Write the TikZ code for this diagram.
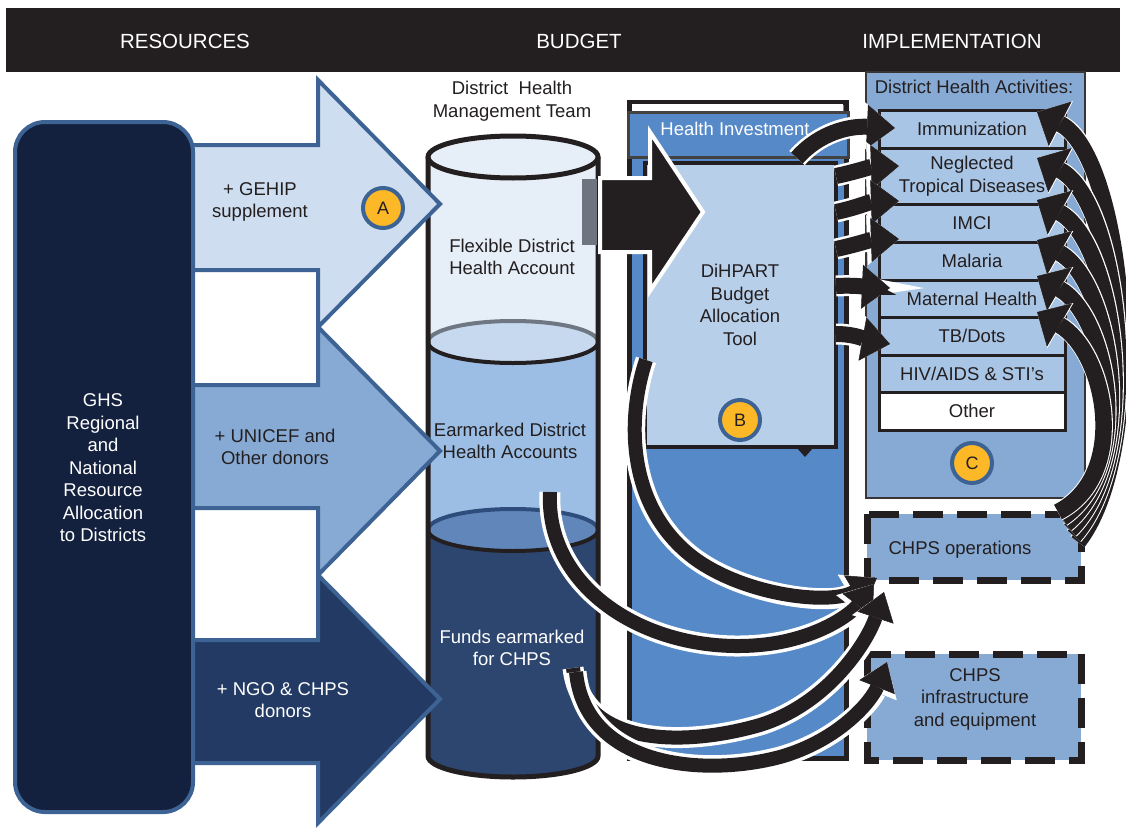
\documentclass[tikz,border=0pt]{standalone}
\usepackage{fontspec}
\setmainfont{Liberation Sans}
\usetikzlibrary{arrows.meta}
\definecolor{dk}{HTML}{231F20}
\definecolor{navy}{HTML}{13213F}
\definecolor{bord}{HTML}{3D6394}
\definecolor{arA}{HTML}{CEDEF0}
\definecolor{arB}{HTML}{87AAD4}
\definecolor{arC}{HTML}{233A64}
\definecolor{gold}{HTML}{FDB827}
\definecolor{flex}{HTML}{E6EEF8}
\definecolor{surfA}{HTML}{C6D9EE}
\definecolor{surfAl}{HTML}{6E7782}
\definecolor{earm}{HTML}{9CBEE4}
\definecolor{surfB}{HTML}{6187BA}
\definecolor{surfBl}{HTML}{2F4D7C}
\definecolor{funds}{HTML}{2C4670}
\definecolor{budg}{HTML}{5589C8}
\definecolor{tool}{HTML}{B8CFEA}
\definecolor{panel}{HTML}{87AAD4}
\definecolor{rowc}{HTML}{A9C5E5}
\definecolor{grayb}{HTML}{6E7480}
\begin{document}
\begin{tikzpicture}[x=1pt,y=-1pt,
  txt/.style={font=\fontsize{18.5}{22.5}\selectfont, text=dk, align=center, inner sep=0pt},
  wtxt/.style={txt, text=white},
  head/.style={font=\fontsize{20.5}{24}\selectfont, text=white, inner sep=0pt},
  badge/.style={circle, fill=gold, draw=bord, line width=4pt, minimum size=40pt, inner sep=0pt, font=\fontsize{18}{20}\selectfont, text=dk},
  bigarrow/.style={draw=bord, line width=4pt, line join=miter},
  rowbox/.style={txt, draw=dk, line width=3pt, fill=rowc, minimum width=186pt},
  chps/.style={draw=dk, fill=panel, line width=7pt, dash pattern=on 30pt off 14pt},
  ell/.style={x radius=85pt, y radius=21pt},
  bandW/.style={white, line width=21pt, -{Triangle[length=32pt, width=46pt, line width=0.5pt]}},
  bandB/.style={dk, line width=14pt, -{Triangle[length=27pt, width=38pt, line width=0.5pt]}},
  lbandW/.style={white, line width=21pt, -{Triangle[length=32pt, width=50pt, line width=0.5pt]}},
  lbandB/.style={dk, line width=16pt, -{Triangle[length=28pt, width=44pt, line width=0.5pt]}},
  rbandW/.style={white, line width=18.5pt, -{Triangle[length=27pt, width=52pt, line width=0.5pt]}},
  rbandB/.style={dk, line width=16.5pt, -{Triangle[length=26pt, width=50pt, line width=0.5pt]}}
]
\useasboundingbox (0,0) rectangle (1126,827);
\fill[white] (0,0) rectangle (1126,827);

% header
\fill[dk] (6,8) rectangle (1120,72);
\node[head] (hres) at (185,41) {RESOURCES};
\node[head] (hbud) at (579,41) {BUDGET};
\node[head] (himp) at (952,41) {IMPLEMENTATION};

% ---------------- cylinder ----------------
\fill[funds] (428,530) rectangle (598,756);
\fill[funds] (513,756) ellipse[ell];
\fill[earm] (428,342) rectangle (598,530);
\fill[surfB] (513,530) ellipse[ell];
\draw[surfBl, line width=4pt] (428,530) arc[start angle=180, end angle=0, ell];
\draw[dk, line width=4pt] (428,530) arc[start angle=180, end angle=360, ell];
\fill[flex] (428,157) rectangle (598,342);
\fill[surfA] (513,342) ellipse[ell];
\draw[surfAl, line width=4pt] (428,342) arc[start angle=180, end angle=0, ell];
\draw[dk, line width=4pt] (428,342) arc[start angle=180, end angle=360, ell];
\filldraw[fill=flex, draw=dk, line width=5pt] (513,157) ellipse[ell];
\draw[dk, line width=5pt] (428,157) -- (428,756) arc[start angle=180, end angle=360, ell] -- (598,157);
\node[txt] (dhmt) at (512,101) {District\ \ Health\\Management Team};
\node[txt] (flexacc) at (512,257) {Flexible District\\Health Account};
\node[txt] (earacc) at (510,441) {Earmarked District\\Health Accounts};
\node[wtxt] (fundacc) at (512,648) {Funds earmarked\\for CHPS};

% ---------------- resource arrows ----------------
\filldraw[bigarrow, fill=arA] (150,145) -- (318,145) -- (318,80) -- (440,204) -- (318,327) -- (318,270) -- (150,270) -- cycle;
\filldraw[bigarrow, fill=arB] (150,385) -- (318,385) -- (318,327) -- (440,451) -- (318,575) -- (318,508) -- (150,508) -- cycle;
\filldraw[bigarrow, fill=arC] (150,640) -- (318,640) -- (318,575) -- (440,699) -- (318,823) -- (318,763) -- (150,763) -- cycle;
\node[txt] (gehip) at (260,202) {+ GEHIP\\supplement};
\node[txt] (unicef) at (275,447) {+ UNICEF and\\Other donors};
\node[wtxt] (ngo) at (283,700) {+ NGO \& CHPS\\donors};
\node[badge] (A) at (383,208) {A};

% left box
\filldraw[fill=navy, draw=bord, line width=4pt, rounded corners=30pt] (15,122) rectangle (193,812);
\node[wtxt] (ghs) at (103,468) {GHS\\Regional\\and\\National\\Resource\\Allocation\\to Districts};

% ---------------- budget column ----------------
\filldraw[fill=budg, draw=dk, line width=5pt] (629,102) rectangle (846,758);
\fill[white] (632,104) rectangle (843,111);
\filldraw[fill=budg, draw=dk!85, line width=3pt] (628,112) rectangle (848,157);
\node[wtxt] (hinv) at (735,129) {Health Investment};
\filldraw[fill=tool, draw=dk, line width=4pt] (645,163) rectangle (836,447);
\fill[dk] (797,448) -- (813,448) -- (805,457) -- cycle;
\node[txt] (dihpart) at (740,305) {DiHPART\\Budget\\Allocation\\Tool};
\node[badge] (B) at (740,420) {B};

% arrow cylinder -> tool
\filldraw[fill=dk, draw=white, line width=4pt, line join=miter] (600,178) -- (650,178) -- (650,132) -- (703,212) -- (650,291) -- (650,252) -- (600,252) -- cycle;
\fill[grayb] (582,179) rectangle (597,245);

% ---------------- implementation ----------------
\filldraw[fill=panel, draw=dk!90, line width=2pt] (866,72) rectangle (1085,498);
\node[txt] (dha) at (974,87) {District Health Activities:};
\node[rowbox, minimum height=38pt] (imm) at (972,129) {Immunization};
\node[rowbox, minimum height=56pt] (ntd) at (972,176) {Neglected\\Tropical Diseases};
\node[rowbox, minimum height=38pt] (imci) at (972,223) {IMCI};
\node[rowbox, minimum height=38pt] (mal) at (972,261) {Malaria};
\node[rowbox, minimum height=37pt] (mat) at (972,298.5) {Maternal Health};
\node[rowbox, minimum height=38pt] (tb) at (972,336) {TB/Dots};
\node[rowbox, minimum height=37pt] (hiv) at (972,373.5) {HIV/AIDS \& STI's};
\node[rowbox, minimum height=38pt, fill=white] (oth) at (972,411) {Other};
\node[badge] (C) at (972,463) {C};

\filldraw[chps] (867,514) rectangle (1081,580);
\node[txt] (chpsop) at (960,550) {CHPS operations};
\filldraw[chps] (867,654) rectangle (1081,760);
\node[txt] (chpsinf) at (975,699) {CHPS\\infrastructure\\and equipment};

% ---------------- tool -> activities ----------------
\coordinate (lf1s) at (797,158); \coordinate (lf1e) at (895,128);
\coordinate (lf2s) at (836,176); \coordinate (lf2e) at (899,166);
\coordinate (lf3s) at (836,212); \coordinate (lf3e) at (899,201);
\coordinate (lf4s) at (836,249); \coordinate (lf4e) at (899,239);
\coordinate (lf5s) at (836,286); \coordinate (lf5e) at (890,288);
\coordinate (lf6s) at (836,334); \coordinate (lf6e) at (890,344);
\draw[lbandW] (lf1s) .. controls (820,132) and (850,126) .. (lf1e);
\draw[lbandB] (lf1s) .. controls (820,132) and (850,126) .. (lf1e);
\draw[lbandW] (lf2s) .. controls (855,172) and (870,167) .. (lf2e);
\draw[lbandB] (lf2s) .. controls (855,172) and (870,167) .. (lf2e);
\draw[lbandW] (lf3s) .. controls (855,208) and (870,202) .. (lf3e);
\draw[lbandB] (lf3s) .. controls (855,208) and (870,202) .. (lf3e);
\draw[lbandW] (lf4s) .. controls (855,245) and (870,240) .. (lf4e);
\draw[lbandB] (lf4s) .. controls (855,245) and (870,240) .. (lf4e);
\draw[lbandW] (lf5s) .. controls (855,285) and (868,287) .. (lf5e);
\draw[lbandB] (lf5s) .. controls (855,285) and (868,287) .. (lf5e);
\draw[lbandW] (lf6s) .. controls (855,334) and (868,340) .. (lf6e);
\draw[lbandB] (lf6s) .. controls (855,334) and (868,340) .. (lf6e);

% ---------------- CHPS operations -> activities ----------------
\coordinate (rs1) at (1078,542); \coordinate (re1) at (1037,112);
\coordinate (rs2) at (1074,536); \coordinate (re2) at (1037,158);
\coordinate (rs3) at (1070,530); \coordinate (re3) at (1037,200);
\coordinate (rs4) at (1066,524); \coordinate (re4) at (1037,240);
\coordinate (rs5) at (1062,518); \coordinate (re5) at (1037,276);
\coordinate (rs6) at (1058,512); \coordinate (re6) at (1037,312);
\draw[rbandW] (rs1) .. controls (1150,450) and (1125,157) .. (re1);
\draw[rbandB] (rs1) .. controls (1150,450) and (1125,157) .. (re1);
\draw[rbandW] (rs2) .. controls (1146,455) and (1122,203) .. (re2);
\draw[rbandB] (rs2) .. controls (1146,455) and (1122,203) .. (re2);
\draw[rbandW] (rs3) .. controls (1142,460) and (1118,245) .. (re3);
\draw[rbandB] (rs3) .. controls (1142,460) and (1118,245) .. (re3);
\draw[rbandW] (rs4) .. controls (1138,465) and (1114,284) .. (re4);
\draw[rbandB] (rs4) .. controls (1138,465) and (1114,284) .. (re4);
\draw[rbandW] (rs5) .. controls (1134,470) and (1110,318) .. (re5);
\draw[rbandB] (rs5) .. controls (1134,470) and (1110,318) .. (re5);
\draw[rbandW] (rs6) .. controls (1130,475) and (1106,352) .. (re6);
\draw[rbandB] (rs6) .. controls (1130,475) and (1106,352) .. (re6);

% ---------------- lower curved arrows ----------------
\coordinate (l1s) at (646,360); \coordinate (l1e) at (877,578);
\coordinate (l2s) at (550,492); \coordinate (l2e) at (874,584);
\coordinate (l3s) at (573,668); \coordinate (l3e) at (884,592);
\coordinate (l4s) at (576,672); \coordinate (l4e) at (887,662);
\draw[bandW] (l1s) .. controls (626,420) and (628,505) .. (690,555) .. controls (740,595) and (830,606) .. (l1e);
\draw[bandB] (l1s) .. controls (626,420) and (628,505) .. (690,555) .. controls (740,595) and (830,606) .. (l1e);
\draw[bandW] (l2s) .. controls (545,590) and (650,655) .. (760,645) .. controls (815,640) and (850,615) .. (l2e);
\draw[bandB] (l2s) .. controls (545,590) and (650,655) .. (760,645) .. controls (815,640) and (850,615) .. (l2e);
\draw[bandW] (l3s) .. controls (582,745) and (680,748) .. (760,725) .. controls (830,703) and (868,640) .. (l3e);
\draw[bandB] (l3s) .. controls (582,745) and (680,748) .. (760,725) .. controls (830,703) and (868,640) .. (l3e);
\draw[bandW] (l4s) .. controls (585,765) and (700,778) .. (780,757) .. controls (840,740) and (872,700) .. (l4e);
\draw[bandB] (l4s) .. controls (585,765) and (700,778) .. (780,757) .. controls (840,740) and (872,700) .. (l4e);
\end{tikzpicture}
\end{document}
